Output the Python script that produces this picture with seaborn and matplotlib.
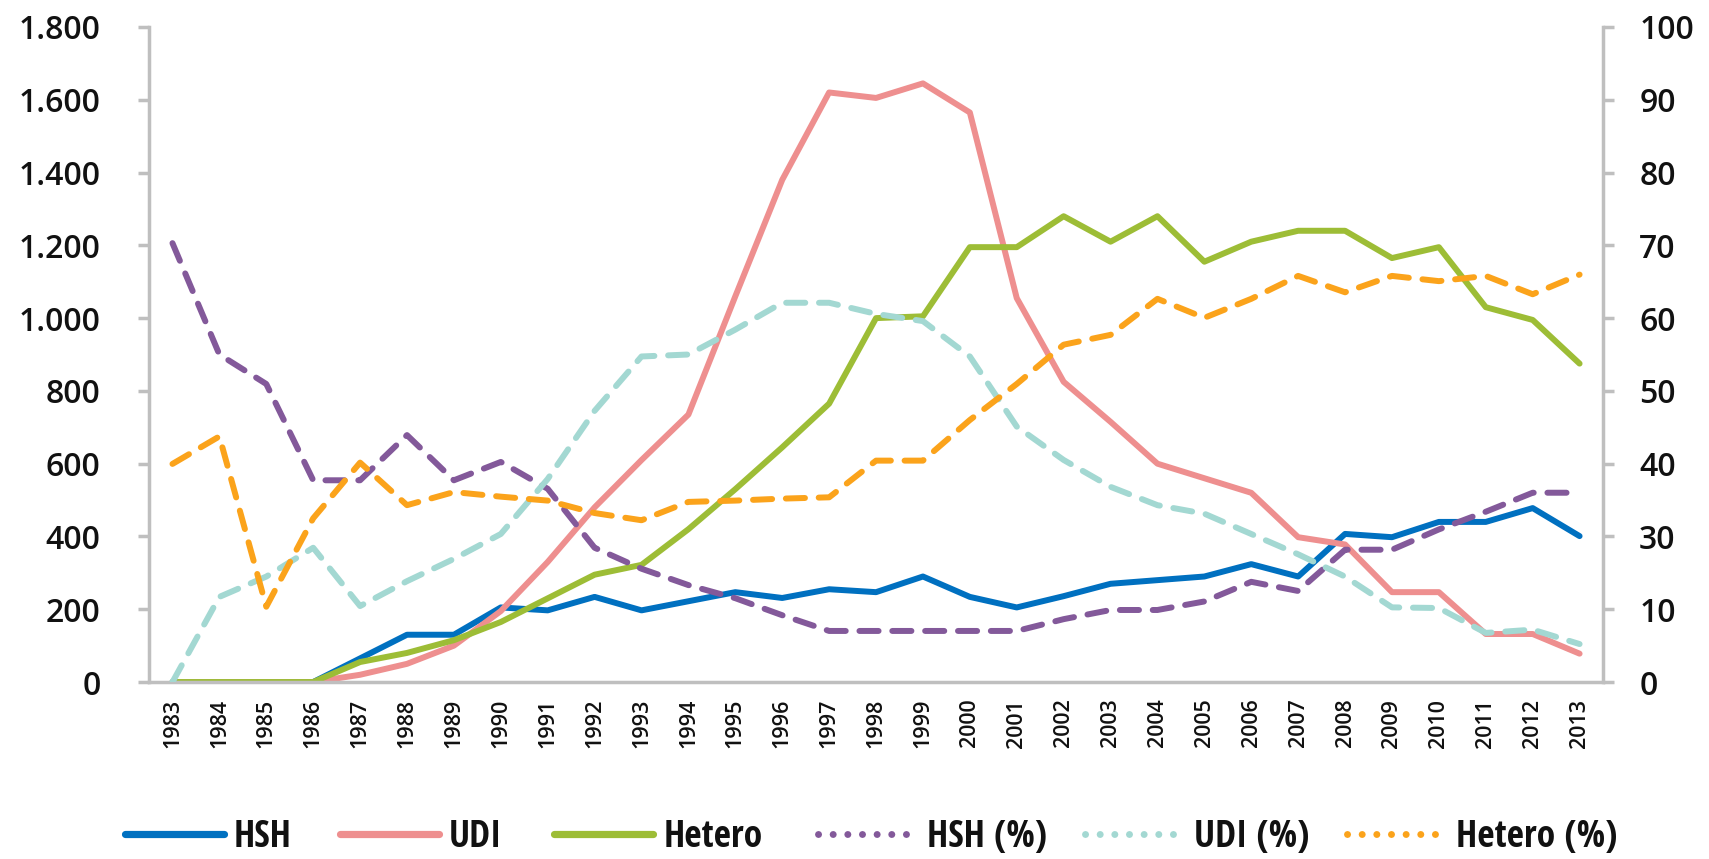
import numpy as np
import pandas as pd
import matplotlib
matplotlib.use("Agg")
import matplotlib.pyplot as plt
from matplotlib.lines import Line2D
import seaborn as sns

# Years on the x axis
years = list(range(1983, 2014))

# New cases per transmission group (left axis)
hsh = [0, 0, 0, 0, 65, 130, 130, 205, 197, 234,
       197, 222, 247, 231, 255, 247, 290, 234, 205, 236,
       270, 280, 290, 324, 290, 407, 398, 440, 440, 478, 401]
udi = [0, 0, 0, 0, 20, 50, 100, 195, 330, 480,
       610, 735, 1060, 1380, 1620, 1605, 1645, 1565, 1055, 825,
       715, 600, 560, 520, 398, 378, 247, 247, 132, 132, 78]
hetero = [0, 0, 0, 0, 55, 80, 115, 165, 230, 295,
          322, 420, 530, 645, 765, 1000, 1005, 1195, 1195, 1280,
          1210, 1280, 1155, 1210, 1240, 1240, 1165, 1195, 1030, 995, 875]

# Share of cases in % (right axis)
hsh_pct = [67, 50, 45.5, 30.8, 30.8, 37.7, 30.8, 33.6, 29.5, 20.5,
           17.3, 14.8, 12.8, 10.2, 7.8, 7.8, 7.8, 7.8, 7.8, 9.6,
           11, 11, 12.3, 15.3, 13.9, 20.2, 20.2, 23.3, 26, 28.9, 28.9]
udi_pct = [0, 13, 16.1, 20.5, 11.6, 15.4, 18.8, 22.6, 31, 41.4,
           49.7, 50, 53.8, 57.9, 57.9, 56.2, 55.1, 49.7, 39, 33.9,
           29.8, 27, 25.7, 22.6, 19.5, 16.1, 11.4, 11.3, 7.5, 8, 5.8]
hetero_pct = [33.3, 37.5, 11.5, 25, 33.5, 27, 29, 28.3, 27.7, 25.8,
              24.7, 27.5, 27.7, 28, 28.2, 33.8, 33.8, 40, 45.5, 51.5,
              53, 58.5, 55.6, 58.5, 62, 59.5, 62, 61.2, 62, 59.2, 62.2]

# Axis labels as printed on the original (the right one skips "20")
left_ticks = [0, 200, 400, 600, 800, 1000, 1200, 1400, 1600, 1800]
right_labels = ["0", "10", "30", "40", "50", "60", "70", "80", "90", "100"]

series = ["HSH", "UDI", "Hetero", "HSH (%)", "UDI (%)", "Hetero (%)"]
df = pd.DataFrame({"pos": np.arange(len(years)), "HSH": hsh, "UDI": udi, "Hetero": hetero,
                   "HSH (%)": hsh_pct, "UDI (%)": udi_pct, "Hetero (%)": hetero_pct})

colors = {"HSH": "#0070C0", "UDI": "#EE8F8F", "Hetero": "#9DBD36",
          "HSH (%)": "#83599A", "UDI (%)": "#A3D8D2", "Hetero (%)": "#FBA31B"}

sns.set_style("white")
plt.rcParams["font.family"] = ["Open Sans", "DejaVu Sans"]

grey = "#BFBFBF"
txt = "#111111"

fig = plt.figure(figsize=(17.09, 8.59), dpi=100)
ax = fig.add_axes([0.0872, 0.206, 0.938 - 0.0872, 0.9686 - 0.206])
ax2 = ax.twinx()

lw = 4.3
for name in series[:3]:
    sns.lineplot(data=df, x="pos", y=name, ax=ax, color=colors[name], linewidth=lw)
for name in series[3:]:
    sns.lineplot(data=df, x="pos", y=name, ax=ax2, color=colors[name], linewidth=lw,
                 linestyle=(0, (3.2, 2.3)), dash_capstyle="round")

ax.set_xlim(-0.5, len(years) - 0.5)
ax.set_ylim(0, 1800)
ax2.set_ylim(0, 100)

# left axis
ax.set_yticks(left_ticks)
ax.set_yticklabels([f"{v:,}".replace(",", ".") for v in left_ticks])
ax.tick_params(axis="y", direction="out", length=8, width=2.5, color=grey,
               labelsize=23, labelcolor=txt, pad=27)

# right axis: evenly spaced ticks with the labels of the original
ax2.set_yticks(np.linspace(0, 100, len(right_labels)))
ax2.set_yticklabels(right_labels)
ax2.tick_params(axis="y", direction="out", length=8, width=2.5, color=grey,
                labelsize=23, labelcolor=txt, pad=18)

# x axis: labels at categories, ticks between them
ax.set_xticks(np.arange(len(years)))
ax.set_xticklabels([str(y) for y in years], rotation=90)
ax.set_xticks(np.arange(0.5, len(years) - 1, 1), minor=True)
ax.tick_params(axis="x", which="major", length=0, labelsize=15.5, labelcolor=txt, pad=12)
ax.tick_params(axis="x", which="minor", direction="out", length=8, width=2.5, color=grey)

for lab in ax.get_yticklabels() + ax2.get_yticklabels() + ax.get_xticklabels():
    lab.set_fontweight(600)

ax.set_xlabel("")
ax.set_ylabel("")
ax2.set_ylabel("")

for a in (ax, ax2):
    a.spines["top"].set_visible(False)
ax.spines["right"].set_visible(False)
ax2.spines["left"].set_visible(False)
ax2.spines["bottom"].set_visible(False)
for sp in (ax.spines["left"], ax.spines["bottom"], ax2.spines["right"]):
    sp.set_color(grey)
    sp.set_linewidth(2.5)

# legend: one small legend per entry, placed like the original
starts = [125, 340, 554, 818, 1085, 1347]
font = {"family": ["Open Sans Condensed", "DejaVu Sans"], "weight": "bold", "size": 27}
for i, name in enumerate(series):
    if i < 3:
        h = Line2D([], [], color=colors[name], lw=5.2, solid_capstyle="round")
    else:
        h = Line2D([], [], color=colors[name], lw=5, linestyle=(0, (0.01, 2.1)),
                   dash_capstyle="round")
    fig.legend([h], [name], loc="center left", bbox_to_anchor=(starts[i] / 1709, 0.026),
               frameon=False, borderpad=0, borderaxespad=0, handlelength=2.64,
               handletextpad=0.27, prop=font, labelcolor=txt)

fig.savefig("out.png", dpi=100)
